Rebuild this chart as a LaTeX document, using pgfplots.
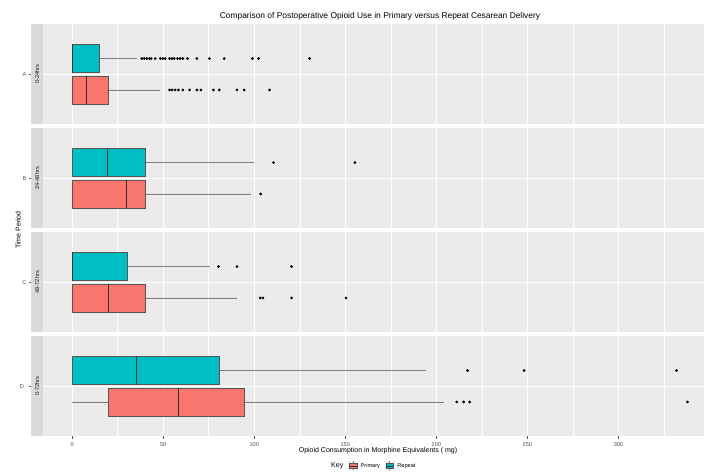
\documentclass[border=0pt]{standalone}
\usepackage{fontspec}
\setmainfont{Liberation Sans}
\usepackage{pgfplots}
\pgfplotsset{compat=1.18}
\usepgfplotslibrary{statistics}

\definecolor{primary}{HTML}{F8766D}
\definecolor{repeat}{HTML}{00BFC4}
\definecolor{panelbg}{HTML}{EBEBEB}
\definecolor{stripbg}{HTML}{D9D9D9}
\definecolor{boxline}{HTML}{555555}
\definecolor{whisk}{HTML}{808080}
\definecolor{medline}{HTML}{333333}
\definecolor{ticktext}{HTML}{4D4D4D}
\definecolor{striptext}{HTML}{1A1A1A}
\definecolor{keybg}{HTML}{F2F2F2}

\newcommand\smallfont{\fontsize{5.6}{6.5}\selectfont}
\newcommand\basefont{\fontsize{7}{8}\selectfont}

\pgfplotsset{
  panel/.style={
    scale only axis, width=661pt, height=100.5pt,
    anchor=south west,
    xmin=-16, xmax=347, ymin=0.4, ymax=1.6,
    axis background/.style={fill=panelbg},
    axis line style={draw=none},
    xtick={0,50,...,300},
    minor xtick={25,75,...,325},
    ytick={1},
    grid=both,
    major grid style={white, line width=0.9pt},
    minor grid style={white, line width=0.45pt},
    major tick length=0pt, minor tick length=0pt,
    ytick style={draw=none},
    xticklabels={},
    yticklabel style={xshift=-13pt, font=\smallfont, text=ticktext},
    /pgf/number format/assume math mode=true,
    clip=false,
    boxplot/draw direction=x,
    boxplot/box extend=0.336,
    boxplot/whisker extend=0,
    boxplot/every median/.style={draw=medline, line width=0.9pt},
    boxplot/every whisker/.style={draw=whisk, line width=0.6pt},
  },
  pbox/.style={fill=primary, draw=boxline, line width=0.5pt, solid,
    mark=*, mark size=1.1pt, mark options={fill=black, draw=black}},
  rbox/.style={fill=repeat, draw=boxline, line width=0.5pt, solid,
    mark=*, mark size=1.1pt, mark options={fill=black, draw=black}},
  boxkey/.style={legend image code/.code={
    \fill[keybg] (0pt,-4.5pt) rectangle (9pt,4.5pt);
    \draw[whisk, line width=0.4pt] (4.5pt,-4.5pt) -- (4.5pt,4.5pt);
    \draw[boxline, line width=0.4pt, fill=#1] (0.7pt,-2.6pt) rectangle (8.3pt,2.6pt);
    \draw[medline, line width=0.7pt] (0.7pt,0pt) -- (8.3pt,0pt);
  }},
}

% facet strip on the left of a panel, with the y tick mark left of it
\newcommand\strip[1]{%
  \fill[stripbg] ([xshift=-12pt]axis description cs:0,0) rectangle (axis description cs:0,1);
  \node[rotate=90, font=\smallfont, text=striptext] at ([xshift=-6pt]axis description cs:0,0.5) {#1};
  \draw[boxline, line width=0.5pt] ([xshift=-12pt]axis description cs:0,0.5) -- ([xshift=-14.5pt]axis description cs:0,0.5);
}

\begin{document}
\begin{tikzpicture}
\path[use as bounding box] (0,0) rectangle (704pt,473pt);

% ---- A: 0-24hrs
\begin{axis}[panel, at={(43pt,348.5pt)}, yticklabels={A}]
\strip{0-24hrs}
\addplot[pbox, boxplot prepared={lower whisker=0, lower quartile=0, median=8,
  upper quartile=20, upper whisker=48.4, draw position=0.8125}]
  table[row sep=\\, y index=0] {v\\ 53.5\\ 54.9\\ 56.6\\ 58.4\\ 60.8\\ 64.5\\ 68.5\\ 70.7\\ 77.6\\ 80.8\\ 90.5\\ 94.5\\ 108.4\\};
\addplot[rbox, boxplot prepared={lower whisker=0, lower quartile=0, median=0,
  upper quartile=15, upper whisker=35.5, draw position=1.1875}]
  table[row sep=\\, y index=0] {v\\ 38.3\\ 39.6\\ 41\\ 42.5\\ 43.4\\ 45.6\\ 48.4\\ 49.8\\ 51.1\\ 53.5\\ 54.8\\ 56\\ 57.9\\ 59.3\\ 60.8\\ 63.4\\ 68.5\\ 75.4\\ 83.5\\ 99\\ 102.4\\ 130.4\\};
\end{axis}

% ---- B: 24-48hrs
\begin{axis}[panel, at={(43pt,244.5pt)}, yticklabels={B}]
\strip{24-48hrs}
\addplot[pbox, boxplot prepared={lower whisker=0, lower quartile=0, median=30,
  upper quartile=40, upper whisker=98.4, draw position=0.8125}]
  table[row sep=\\, y index=0] {v\\ 103.5\\};
\addplot[rbox, boxplot prepared={lower whisker=0, lower quartile=0, median=19.6,
  upper quartile=40, upper whisker=100, draw position=1.1875}]
  table[row sep=\\, y index=0] {v\\ 110.6\\ 155.3\\};
\end{axis}

% ---- C: 48-72hrs
\begin{axis}[panel, at={(43pt,140.5pt)}, yticklabels={C}]
\strip{48-72hrs}
\addplot[pbox, boxplot prepared={lower whisker=0, lower quartile=0, median=20,
  upper quartile=40, upper whisker=90.5, draw position=0.8125}]
  table[row sep=\\, y index=0] {v\\ 103.3\\ 104.8\\ 120.5\\ 150.4\\};
\addplot[rbox, boxplot prepared={lower whisker=0, lower quartile=0, median=0,
  upper quartile=30.5, upper whisker=75.5, draw position=1.1875}]
  table[row sep=\\, y index=0] {v\\ 80.4\\ 90.5\\ 120.5\\};
\end{axis}

% ---- D: 0-72hrs (carries the x axis and the legend)
\begin{axis}[panel, at={(43pt,36.5pt)}, yticklabels={D},
  xticklabels={0,50,100,150,200,250,300},
  xtick pos=bottom, tick align=outside,
  major tick length=2.5pt,
  xtick style={boxline, line width=0.5pt},
  xticklabel style={font=\smallfont, text=ticktext},
  legend style={at={(0.499,-0.2935)}, anchor=center, draw=none, fill=none,
    legend columns=-1, font=\smallfont, inner sep=0pt,
    /tikz/every odd column/.append style={column sep=1pt},
    /tikz/every even column/.append style={column sep=3pt}},
]
\strip{0-72hrs}
\addlegendimage{empty legend}\addlegendentry{\basefont Key}
\addlegendimage{boxkey=primary}\addlegendentry{Primary}
\addlegendimage{boxkey=repeat}\addlegendentry{Repeat}
\addplot[pbox, forget plot, boxplot prepared={lower whisker=0, lower quartile=20, median=58.6,
  upper quartile=94.5, upper whisker=204, draw position=0.8125}]
  table[row sep=\\, y index=0] {v\\ 211.2\\ 215\\ 218.3\\ 337.9\\};
\addplot[rbox, forget plot, boxplot prepared={lower whisker=0, lower quartile=0, median=35.5,
  upper quartile=80.6, upper whisker=194.2, draw position=1.1875}]
  table[row sep=\\, y index=0] {v\\ 217.2\\ 248.2\\ 331.9\\};
\end{axis}

\node[font=\fontsize{8.4}{10}\selectfont] at (380pt,457pt)
  {Comparison of Postoperative Opioid Use in Primary versus Repeat Cesarean Delivery};
\node[font=\basefont, rotate=90] at (18pt,243pt) {Time Period};
\node[font=\basefont] at (378pt,22pt) {Opioid Consumption in Morphine Equivalents ( mg)};
\end{tikzpicture}
\end{document}
